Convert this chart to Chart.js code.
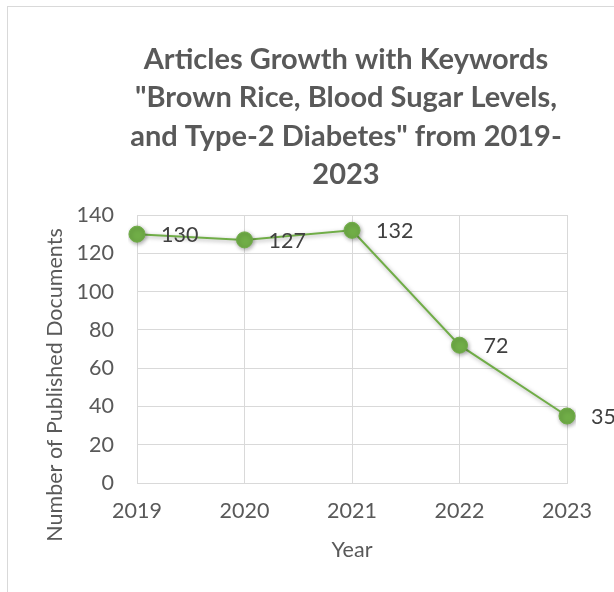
<!DOCTYPE html>
<html>
<head>
<meta charset="utf-8">
<script src="https://cdn.jsdelivr.net/npm/chart.js@4"></script>
<style>
  html, body { margin: 0; padding: 0; background: #fff; }
  #wrap { position: relative; width: 614px; height: 592px; overflow: hidden; }
  #frame { position: absolute; left: 7px; top: 6px; width: 700px; height: 700px;
           border-left: 1px solid #d9d9d9; border-top: 1px solid #d9d9d9; }
  canvas { position: absolute; left: 0; top: 0; }
</style>
</head>
<body>
<div id="wrap">
  <div id="frame"></div>
  <canvas id="chart" width="614" height="592"></canvas>
</div>
<script>
// 2019-2023 키워드 논문 수
var YEARS = ['2019', '2020', '2021', '2022', '2023'];
var DOCS = [130, 127, 132, 72, 35];
var Y_TICKS = [0, 20, 40, 60, 80, 100, 120, 140];

var TITLE_LINES = [
  'Articles Growth with Keywords',
  '"Brown Rice, Blood Sugar Levels,',
  'and Type-2 Diabetes" from 2019-',
  '2023'
];
var Y_TITLE = 'Number of Published Documents';
var X_TITLE = 'Year';

var GREEN = '#70ad47';
var GRID = '#d9d9d9';
var TEXT = '#595959';
var FONT = 'Lato, "Open Sans", sans-serif';
var FS = 21.5;

// 제목과 y축 제목: 위치를 직접 잡아서 그림
var titlePlugin = {
  id: 'multiTitle',
  afterDraw: function (chart) {
    var ctx = chart.ctx;
    ctx.save();
    ctx.fillStyle = TEXT;
    ctx.font = 'bold 29px ' + FONT;
    ctx.textAlign = 'center';
    ctx.textBaseline = 'alphabetic';
    TITLE_LINES.forEach(function (t, i) {
      ctx.fillText(t, 346, 69 + i * 38.3);
    });
    ctx.translate(55, 385);
    ctx.rotate(-Math.PI / 2);
    ctx.font = FS + 'px ' + FONT;
    ctx.textBaseline = 'middle';
    ctx.fillText(Y_TITLE, 0, 0);
    ctx.restore();
  }
};

// 점 오른쪽에 값 표시
var labelPlugin = {
  id: 'pointLabels',
  afterDatasetsDraw: function (chart) {
    var ctx = chart.ctx;
    var meta = chart.getDatasetMeta(0);
    ctx.save();
    ctx.fillStyle = '#404040';
    ctx.font = FS + 'px ' + FONT;
    ctx.textAlign = 'left';
    ctx.textBaseline = 'middle';
    meta.data.forEach(function (pt, i) {
      ctx.fillText(String(DOCS[i]), pt.x + 24, pt.y + 1);
    });
    ctx.restore();
  }
};

// 선/마커 그림자
var shadowPlugin = {
  id: 'shadow',
  beforeDatasetDraw: function (chart) {
    var ctx = chart.ctx;
    ctx.save();
    ctx.shadowColor = 'rgba(0,0,0,0.35)';
    ctx.shadowBlur = 4;
    ctx.shadowOffsetX = 1;
    ctx.shadowOffsetY = 1.5;
  },
  afterDatasetDraw: function (chart) {
    chart.ctx.restore();
  }
};

new Chart(document.getElementById('chart').getContext('2d'), {
  type: 'line',
  data: {
    labels: YEARS,
    datasets: [{
      data: DOCS,
      borderColor: GREEN,
      backgroundColor: GREEN,
      borderWidth: 2,
      pointRadius: 8,
      pointBackgroundColor: GREEN,
      pointBorderColor: GREEN,
      pointBorderWidth: 1,
      tension: 0,
      fill: false
    }]
  },
  options: {
    responsive: false,
    animation: false,
    devicePixelRatio: 1,
    layout: { padding: { left: 44, right: 47, top: 215, bottom: 29 } },
    plugins: {
      legend: { display: false },
      tooltip: { enabled: false },
      title: { display: false }
    },
    scales: {
      x: {
        offset: false,
        grid: { color: GRID, lineWidth: 1, drawTicks: false },
        border: { color: GRID },
        ticks: { color: TEXT, font: { family: FONT, size: FS }, padding: 15, maxRotation: 0 },
        title: { display: true, text: X_TITLE, color: TEXT, font: { family: FONT, size: FS }, padding: 0 },
        afterFit: function (s) { s.height = 80; }
      },
      y: {
        min: Y_TICKS[0],
        max: Y_TICKS[Y_TICKS.length - 1],
        grid: { color: GRID, lineWidth: 1, drawTicks: false },
        border: { color: GRID },
        ticks: { stepSize: Y_TICKS[1] - Y_TICKS[0], color: TEXT, font: { family: FONT, size: FS }, padding: 23 },
        afterFit: function (s) { s.width = 93; }
      }
    }
  },
  plugins: [shadowPlugin, labelPlugin, titlePlugin]
});
</script>
</body>
</html>
